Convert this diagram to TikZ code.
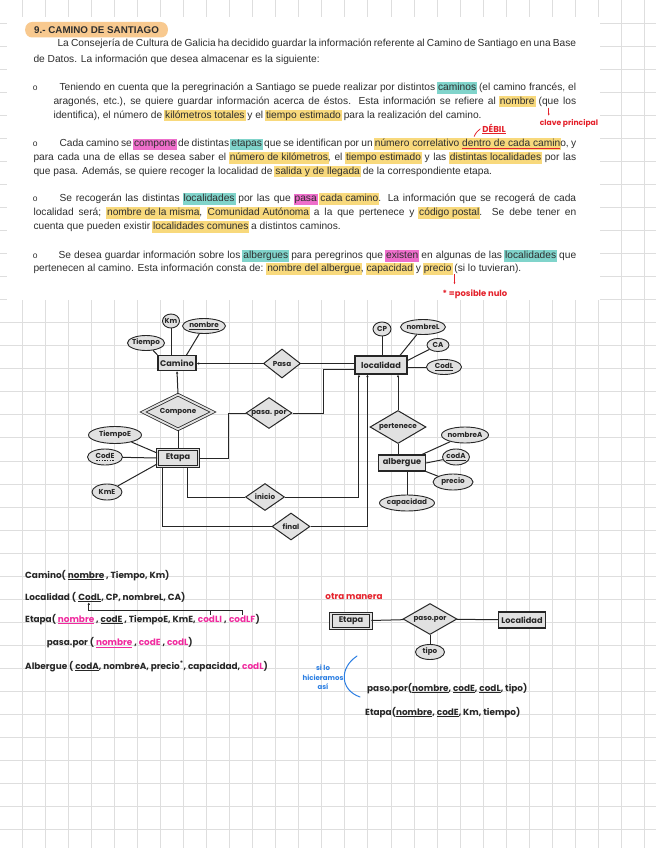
\documentclass[tikz,border=0pt]{standalone}
\usepackage{fontspec}
\setmainfont{Liberation Sans}
\newfontfamily\hand{Poppins}
\usepackage{tikz}
\usetikzlibrary{arrows.meta,positioning,calc,shapes.geometric}
\definecolor{body}{HTML}{2E2E2E}
\definecolor{ink}{HTML}{262626}
\definecolor{gridc}{HTML}{DEDEDE}
\definecolor{erfill}{HTML}{E1E1E1}
\definecolor{hlyellow}{HTML}{F8D97C}
\definecolor{hlteal}{HTML}{80D4CB}
\definecolor{hlpink}{HTML}{EE6ECB}
\definecolor{hlorange}{HTML}{F8C98F}
\definecolor{redink}{HTML}{E4212B}
\definecolor{blueink}{HTML}{2B7EE2}
\definecolor{pinkink}{HTML}{F02A9E}
\newcommand\docfont{\fontsize{10.2}{12}\selectfont}
\newcommand\erfont{\hand\bfseries\fontsize{8.2}{9}\selectfont}
\newcommand\atfont{\hand\bfseries\fontsize{7.2}{8}\selectfont}
\newcommand\relfont{\hand\bfseries\fontsize{8.9}{10}\selectfont}
\newcommand\notefont{\hand\bfseries\fontsize{7.6}{8}\selectfont}
\newcommand\hlmark[2]{\kern-1pt\relax{\fboxsep=1pt\colorbox{#1}{\rule[-2.3pt]{0pt}{8.6pt}#2}}\kern-1pt\relax}
\newcommand\hly[1]{\hlmark{hlyellow}{#1}}
\newcommand\hlt[1]{\hlmark{hlteal}{#1}}
\newcommand\hlp[1]{\hlmark{hlpink}{#1}}
\newsavebox\rulbox
\newcommand\rul[1]{\sbox\rulbox{#1}\rlap{\color{redink}\rule[-2.6pt]{\wd\rulbox}{0.8pt}}\usebox\rulbox}
\newcommand\dul[1]{\sbox\rulbox{#1}\rlap{\hbox to \wd\rulbox{\xleaders\hbox to 2.6pt{\hss\rule[-2.4pt]{1.5pt}{0.6pt}\hss}\hfill}}\usebox\rulbox}
\newcommand\pk[1]{{\color{pinkink}#1}}
\tikzset{
  gridline/.style={draw=gridc, line width=1pt},
  txtline/.style={anchor=base west, inner sep=0pt, text=body, font=\docfont},
  entity/.style={draw=ink, fill=erfill, line width=1.1pt, inner sep=0pt, font=\erfont, text=ink},
  weak/.style={entity, double=erfill, double distance=1.6pt, line width=0.8pt},
  attr/.style={ellipse, draw=ink, fill=erfill, line width=0.9pt, inner xsep=-3pt, inner ysep=-1pt,
               font=\atfont, text=ink},
  rel/.style={diamond, draw=ink, fill=erfill, line width=1pt, inner xsep=-4pt, inner ysep=-1pt,
              font=\atfont, text=ink},
  link/.style={draw=ink, line width=1pt},
  tolink/.style={link, -{Latex[length=2.6pt,width=2.6pt]}},
  reltxt/.style={anchor=base west, inner sep=0pt, text=ink, font=\relfont},
  note/.style={inner sep=0pt, text=redink, font=\notefont}
}
\begin{document}
\begin{tikzpicture}[x=1pt,y=-1pt,>=Latex]
\useasboundingbox (0,0) rectangle (656,848);
% squared paper
\foreach \i in {0,...,27}
  \draw[gridline] ({22.2+23.05*\i},0) -- ({22.2+23.05*\i},848);
\foreach \j in {0,...,36}
  \draw[gridline] (0,{23.05*\j}) -- (656,{23.05*\j});
\fill[white] (7,17) rectangle (600,300);

% statement
\node[txtline, font=\bfseries\fontsize{9.8}{11}\selectfont, fill=hlorange, rounded corners=7pt,
      inner xsep=9pt, inner ysep=4pt, text height=7.5pt, text depth=0pt] (title) at (25,33.5)
  {9.- CAMINO DE SANTIAGO};
\node[txtline] (intro1) at (57.3,46.3) {\hbox to 518.7pt{La Consejería de Cultura de Galicia ha decidido guardar la información referente al Camino de Santiago en una Base}};
\node[txtline] (intro2) at (33.3,62.3) {de Datos. La información que desea almacenar es la siguiente:};

\node[txtline, font=\fontsize{8.5}{9}\selectfont] (bul1) at (32.7,90.3) {o};
\node[txtline] (p1a) at (59.3,90.3) {\hbox to 516.7pt{Teniendo en cuenta que la peregrinación a Santiago se puede realizar por distintos \hlt{caminos} (el camino francés, el}};
\node[txtline] (p1b) at (53.3,104.2) {\hbox to 522.7pt{aragonés, etc.), se quiere guardar información acerca de éstos. Esta información se refiere al \hly{nombre} (que los}};
\node[txtline] (p1c) at (53.3,118.1) {identifica), el número de \hly{kilómetros totales} y el \hly{tiempo estimado} para la realización del camino.};

\node[txtline, font=\fontsize{8.5}{9}\selectfont] (bul2) at (32.7,146.6) {o};
\node[txtline] (p2a) at (59.3,146.6) {\hbox to 516.7pt{Cada camino se \hlp{compone} de distintas \hlt{etapas} que se identifican por un \hly{número correlativo \rul{dentro de cada camin}}o, y}};
\node[txtline] (p2b) at (33.3,160.3) {\hbox to 542.7pt{para cada una de ellas se desea saber el \hly{número de kilómetros}, el \hly{tiempo estimado} y las \hly{distintas localidades} por las}};
\node[txtline] (p2c) at (33.3,174) {que pasa. Además, se quiere recoger la localidad de \hly{salida y de llegada} de la correspondiente etapa.};

\node[txtline, font=\fontsize{8.5}{9}\selectfont] (bul3) at (32.7,201.6) {o};
\node[txtline] (p3a) at (59.3,201.6) {\hbox to 516.7pt{Se recogerán las distintas \hlt{localidades} por las que \hlp{pasa} \hly{cada camino}. La información que se recogerá de cada}};
\node[txtline] (p3b) at (33.3,215.3) {\hbox to 542.7pt{localidad será; \hly{nombre de la misma}, \hly{Comunidad Autónoma} a la que pertenece y \hly{código postal}. Se debe tener en}};
\node[txtline] (p3c) at (33.3,229.3) {cuenta que pueden existir \hly{localidades comunes} a distintos caminos.};

\node[txtline, font=\fontsize{8.5}{9}\selectfont] (bul4) at (32.7,258.3) {o};
\node[txtline] (p4a) at (58.3,258.3) {\hbox to 517.7pt{Se desea guardar información sobre los \hlt{albergues} para peregrinos que \hlp{existen} en algunas de las \hlt{localidades} que}};
\node[txtline] (p4b) at (33.3,271.6) {pertenecen al camino. Esta información consta de: \hly{nombre del albergue}, \hly{capacidad} y \hly{precio} (si lo tuvieran).};

% red notes on the statement
\node[note, font=\hand\bfseries\fontsize{8.6}{9}\selectfont] (debil) at (494,128) {DÉBIL};
\draw[redink, line width=0.8pt] ([yshift=-1pt]debil.south west) -- ([yshift=-1pt]debil.south east);
\draw[redink, line width=0.8pt, line cap=round] ($(debil.south west)+(-8,4)$) .. controls ($(debil.south west)+(-6,0)$) .. ($(debil.west)+(-2,1)$);
\node[note] (clave) at (569,123) {clave principal};
\draw[redink, line width=0.7pt, -{Latex[length=2pt,width=2pt]}] ($(clave.north west)+(9,-11)$) -- ($(clave.north west)+(9,-3)$);
\node[note, font=\hand\bfseries\fontsize{8.4}{9}\selectfont] (nulo) at (475,294) {* =posible nulo};
\draw[redink, line width=0.7pt, -{Latex[length=2pt,width=2pt]}] ($(nulo.north west)+(12,-15)$) -- ($(nulo.north west)+(12,-5)$);

% E/R diagram
\node[entity, minimum width=38pt, minimum height=15pt] (camino) at (177,363) {Camino};
\node[attr, minimum width=17pt, minimum height=14pt] (cKm) at (171,321) {Km};
\node[attr, minimum width=43pt, minimum height=15pt] (cNombre) at (204,326) {\underline{nombre}};
\node[attr, minimum width=37pt, minimum height=15pt] (cTiempo) at (146,343) {Tiempo};
\node[rel, aspect=1.28, minimum width=37pt, minimum height=29pt] (pasa) at (282,363.5) {Pasa};
\node[rel, double=erfill, double distance=1.8pt, line width=0.8pt, aspect=1.95,
      minimum width=70pt, minimum height=35pt] (compone) at (178,412) {Compone};
\node[weak, minimum width=41pt, minimum height=17pt] (etapa) at (178,458) {Etapa};
\node[attr, minimum width=53pt, minimum height=17pt] (eTiempo) at (115,435) {TiempoE};
\node[attr, minimum width=35pt, minimum height=16pt] (eCod) at (105,457) {\dul{CodE}};
\node[attr, minimum width=30pt, minimum height=16pt] (eKm) at (107,492) {KmE};
\node[rel, aspect=1.45, minimum width=46pt, minimum height=31pt] (pasapor) at (269,413) {pasa. por};
\node[rel, aspect=1.44, minimum width=39pt, minimum height=27pt] (inicio) at (265,497) {inicio};
\node[rel, aspect=1.41, minimum width=38pt, minimum height=27pt] (final) at (291,526.5) {final};
\node[entity, minimum width=52pt, minimum height=18pt] (localidad) at (381,365) {localidad};
\node[attr, minimum width=18pt, minimum height=14pt] (lCP) at (382,329) {CP};
\node[attr, minimum width=45pt, minimum height=15pt] (lNombre) at (423,327) {nombreL};
\node[attr, minimum width=22pt, minimum height=13pt] (lCA) at (438,345) {CA};
\node[attr, minimum width=35pt, minimum height=15pt] (lCod) at (444,367) {\underline{CodL}};
\node[rel, aspect=1.67, minimum width=56pt, minimum height=33pt] (pertenece) at (398,427) {pertenece};
\node[entity, minimum width=47pt, minimum height=16pt] (albergue) at (402,463) {albergue};
\node[attr, minimum width=47pt, minimum height=16pt] (aNombre) at (465,435) {nombreA};
\node[attr, minimum width=27pt, minimum height=16pt] (aCod) at (456,457) {\underline{codA}};
\node[attr, minimum width=40pt, minimum height=16pt] (aPrecio) at (453,482) {precio};
\node[attr, minimum width=55pt, minimum height=16pt] (aCap) at (407,503) {capacidad};

\draw[link] (cTiempo) -- (camino.north west);
\draw[link] (cKm) -- (cKm |- camino.north);
\draw[link] (cNombre) -- ($(camino.north east)+(-10,0)$);
\draw[tolink] (pasa.west) -- (pasa.west -| camino.east);
\draw[tolink] (compone.north) -- (camino.south);
\draw[link] (compone.south) -- (etapa.north);
\draw[link] (eTiempo) -- ($(etapa.west)+(0,-5)$);
\draw[link] (eCod) -- (etapa.west);
\draw[link] (eKm) -- ($(etapa.west)+(0,6)$);
\draw[link] (etapa.east) -- ++(30,0) |- (pasapor.west);
\draw[link] (pasa.east) -- (pasa.east -| localidad.west);
\draw[link] (pasapor.east) -- ++(31,0) |- ($(localidad.west)+(0,4)$);
\draw[link] ($(etapa.south)+(9,0)$) |- (inicio.west);
\draw[tolink] (inicio.east) -| ($(localidad.south west)+(4.5,0)$);
\draw[link] ($(etapa.south)+(-16,0)$) |- (final.west);
\draw[tolink] (final.east) -| ($(localidad.south west)+(13,0)$);
\draw[link] (lCP) -- (lCP |- localidad.north);
\draw[link] (lNombre) -- ($(localidad.north)+(19,0)$);
\draw[link] (lCA) -- ($(localidad.north east)+(0,5)$);
\draw[link] (lCod) -- (lCod -| localidad.east);
\draw[tolink] (pertenece.north) -- (pertenece.north |- localidad.south);
\draw[link] (pertenece.south) -- (pertenece.south |- albergue.north);
\draw[link] (aNombre) -- ($(albergue.north east)+(-4,0)$);
\draw[link] (aCod) -- (albergue.east);
\draw[link] (aPrecio) -- (albergue.south east);
\draw[link] (aCap.north) -- (aCap.north |- albergue.south);

% relational schema
\node[reltxt] (rCam) at (25,578) {Camino( \underline{nombre} , Tiempo, Km)};
\node[reltxt] (rLoc) at (25,600) {Localidad (};
\node[reltxt] (rLocCod) at (rLoc.base east) {\ \underline{CodL}};
\node[reltxt] (rLocEnd) at (rLocCod.base east) {, CP, nombreL, CA)};
\node[reltxt] (rEta) at (25,622) {Etapa( \pk{\underline{nombre}} , \underline{codE} , TiempoE, KmE,\ \null};
\node[reltxt] (rEtaLI) at (rEta.base east) {\pk{codLI}};
\node[reltxt] (rEtaMid) at (rEtaLI.base east) {\ ,\ \null};
\node[reltxt] (rEtaLF) at (rEtaMid.base east) {\pk{codLF}};
\node[reltxt] (rEtaEnd) at (rEtaLF.base east) {)};
\coordinate (brk) at ($(rEtaLF.north)+(0,-5)$);
\draw[ink, line width=0.8pt] (rEtaLI.north) -- (rEtaLI.north |- brk);
\draw[ink, line width=0.8pt, -{Latex[length=2.6pt,width=2.6pt]}] (rEtaLF.north) -- (brk) -| (rLocCod.south);
\node[reltxt] (rPasa) at (46.7,645.5) {pasa.por ( \pk{\underline{nombre}} , \pk{codE} , \pk{codL})};
\node[reltxt] (rAlb) at (25,669) {Albergue ( \underline{codA}, nombreA, precio\textsuperscript{*}, capacidad, \pk{codL})};

% other way
\node[note, font=\hand\bfseries\fontsize{8.8}{9}\selectfont] (otra) at (354,596) {otra manera};
\node[weak, minimum width=40pt, minimum height=15pt] (etapaB) at (351,621) {Etapa};
\node[rel, aspect=1.74, minimum width=54pt, minimum height=31pt] (pasoporB) at (430,619) {paso.por};
\node[entity, minimum width=47pt, minimum height=16pt] (localidadB) at (522,620) {Localidad};
\node[attr, minimum width=29pt, minimum height=15pt] (tipo) at (430,652) {tipo};
\draw[link] (etapaB) -- (pasoporB);
\draw[link] (pasoporB) -- (localidadB);
\draw[link] (pasoporB) -- (tipo);
\node[align=center, inner sep=0pt, text=blueink, font=\hand\bfseries\fontsize{7}{9.5}\selectfont] (asi) at (323,677.5)
  {si lo\\hicieramos\\así};
\draw[blueink, line width=1pt, line cap=round] (357,656) .. controls (339,668) and (340,690) .. (360,697);
\node[reltxt] (rPaso) at (367,691) {paso.por(\underline{nombre}, \underline{codE}, \underline{codL}, tipo)};
\node[reltxt] (rEtaB) at (365,715) {Etapa(\underline{nombre}, \underline{codE}, Km, tiempo)};
\end{tikzpicture}
\end{document}
